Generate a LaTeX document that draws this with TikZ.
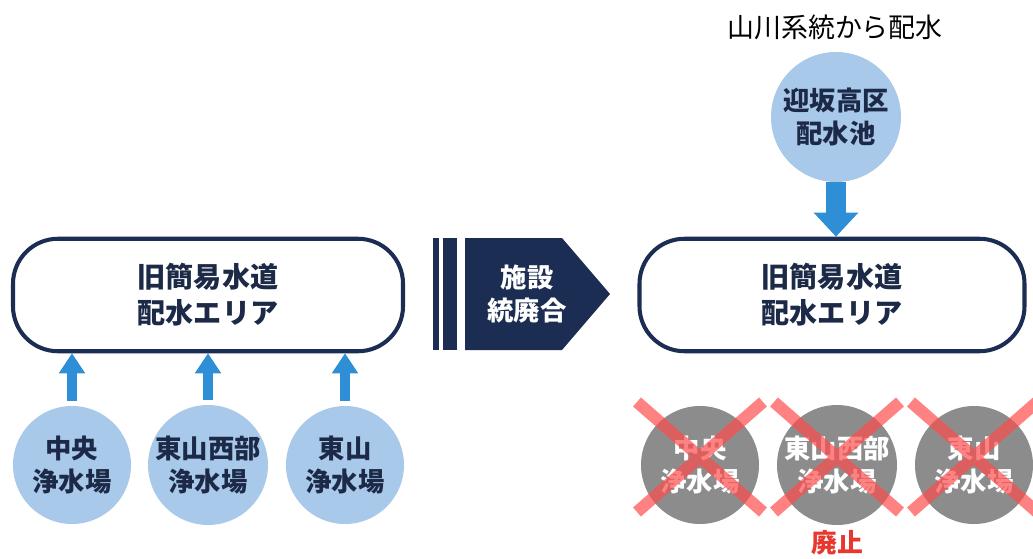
\documentclass[tikz,border=0pt]{standalone}
\usepackage{fontspec}
\setmainfont{Noto Sans CJK JP}
\usetikzlibrary{arrows.meta,calc}
\definecolor{navy}{HTML}{1B2D52}
\definecolor{inktext}{HTML}{1C2A48}
\definecolor{paleblue}{HTML}{A9C9EA}
\definecolor{flowblue}{HTML}{2F8FD6}
\definecolor{stonegray}{HTML}{8C8C8C}
\definecolor{crossred}{HTML}{FF4D4D}
\definecolor{stopred}{HTML}{E8372F}
\tikzset{
 area/.style={draw=navy, line width=2.3pt, rounded corners=0.9cm, minimum width=7.8cm, minimum height=2.25cm, align=center, text=inktext, font=\fontsize{16}{20.5}\selectfont\bfseries},
 plant/.style={circle, fill=paleblue, minimum size=2.36cm, inner sep=0pt, align=center, text=inktext, font=\fontsize{15}{18.5}\selectfont\bfseries},
 oldplant/.style={plant, fill=stonegray, text=white},
 feed/.style={draw=flowblue, line width=0.2cm, -{Triangle[width=0.5cm,length=0.4cm]}},
 cross/.style={draw=crossred, opacity=0.7, line width=0.24cm}
}
\begin{document}
\begin{tikzpicture}
\clip (0,0) rectangle (20.66,11.16);
\fill[white] (0,0) rectangle (20.66,11.16);

% before
\node[area] (area1) at (4.16,5.26) {旧簡易水道\\配水エリア};
\node[plant] (c1) at (1.44,1.86) {中央\\浄水場};
\node[plant] (c2) at (4.16,1.86) {東山西部\\浄水場};
\node[plant] (c3) at (6.9,1.86) {東山\\浄水場};
\draw[feed, shorten <=0.1cm] (c1.north) -- (c1.north |- area1.south);
\draw[feed, shorten <=0.1cm] (c2.north) -- (c2.north |- area1.south);
\draw[feed, shorten <=0.1cm] (c3.north) -- (c3.north |- area1.south);

% merge arrow
\fill[navy] (8.66,4.16) rectangle (8.78,6.4);
\fill[navy] (8.86,4.16) rectangle (9.14,6.4);
\fill[navy] (9.3,6.4) -- (11.24,6.4) -- (12.2,5.28) -- (11.24,4.16) -- (9.3,4.16) -- cycle;
\node[white, align=center, font=\fontsize{15}{19}\selectfont\bfseries] (merge) at (10.54,5.28) {施設\\統廃合};

% after
\node[area, minimum width=7.7cm] (area2) at (16.64,5.26) {旧簡易水道\\配水エリア};
\node[plant, minimum size=2.6cm] (pool) at (16.72,8.82) {迎坂高区\\配水池};
\node[font=\fontsize{15.3}{18}\selectfont] (source) at (16.7,10.62) {山川系統から配水};
\draw[feed, line width=0.4cm, -{Triangle[width=0.86cm,length=0.48cm]}] (pool.south) -- (pool.south |- area2.north);
\node[oldplant] (g1) at (14.0,1.86) {中央\\浄水場};
\node[oldplant] (g2) at (16.74,1.86) {東山西部\\浄水場};
\node[oldplant] (g3) at (19.48,1.86) {東山\\浄水場};
\draw[cross] ($(g1)+(-1.26,1.26)$) -- ($(g1)+(1.26,-0.94)$) ($(g1)+(1.26,1.26)$) -- ($(g1)+(-1.26,-0.94)$);
\draw[cross] ($(g2)+(-1.26,1.26)$) -- ($(g2)+(1.26,-0.94)$) ($(g2)+(1.26,1.26)$) -- ($(g2)+(-1.26,-0.94)$);
\draw[cross] ($(g3)+(-1.26,1.26)$) -- ($(g3)+(1.26,-0.94)$) ($(g3)+(1.26,1.26)$) -- ($(g3)+(-1.26,-0.94)$);
\node[text=stopred, font=\fontsize{14.7}{18}\selectfont\bfseries] (stop) at (16.74,0.3) {廃止};
\end{tikzpicture}
\end{document}
